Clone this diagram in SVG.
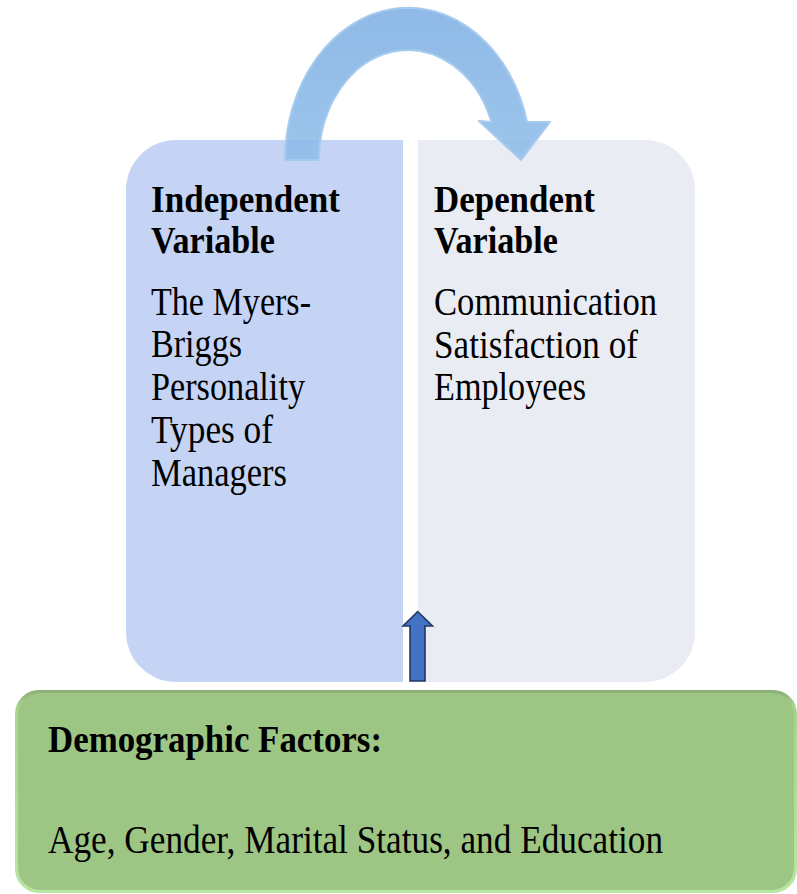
<svg xmlns="http://www.w3.org/2000/svg" width="797" height="894" viewBox="0 0 797 894">
  <style>
    text { font-family: "Liberation Serif", "Times New Roman", serif; fill: #000; }
    .head { font-size: 37px; font-weight: bold; }
    .body { font-size: 39px; }
  </style>
  <defs>
    <linearGradient id="arcFill" x1="0" y1="0" x2="0" y2="1">
      <stop offset="0" stop-color="#7fb0e3"/>
      <stop offset="1" stop-color="#8fbde9"/>
    </linearGradient>
    <linearGradient id="greenEdge" x1="0" y1="0" x2="0" y2="1">
      <stop offset="0" stop-color="#8aab76"/>
      <stop offset="0.08" stop-color="#a9d48f"/>
      <stop offset="1" stop-color="#b9e6a2"/>
    </linearGradient>
  </defs>

  <rect width="797" height="894" fill="#ffffff"/>

  <!-- left panel: independent variable -->
  <g id="node-independent">
    <path d="M176,140 H403 V682 H176 A50,50 0 0 1 126,632 V190 A50,50 0 0 1 176,140 Z" fill="#c5d4f5"/>
    <text class="head" x="151" y="212" textLength="189" lengthAdjust="spacingAndGlyphs">Independent</text>
    <text class="head" x="151" y="253" textLength="124" lengthAdjust="spacingAndGlyphs">Variable</text>
    <text class="body" x="151" y="315" textLength="160" lengthAdjust="spacingAndGlyphs">The Myers-</text>
    <text class="body" x="151" y="357" textLength="91" lengthAdjust="spacingAndGlyphs">Briggs</text>
    <text class="body" x="151" y="400" textLength="154" lengthAdjust="spacingAndGlyphs">Personality</text>
    <text class="body" x="151" y="443" textLength="122" lengthAdjust="spacingAndGlyphs">Types of</text>
    <text class="body" x="151" y="486" textLength="136" lengthAdjust="spacingAndGlyphs">Managers</text>
  </g>

  <!-- right panel: dependent variable -->
  <g id="node-dependent">
    <path d="M418,140 H645 A50,50 0 0 1 695,190 V632 A50,50 0 0 1 645,682 H418 Z" fill="#e9ecf2"/>
    <text class="head" x="434" y="212" textLength="161" lengthAdjust="spacingAndGlyphs">Dependent</text>
    <text class="head" x="434" y="253" textLength="124" lengthAdjust="spacingAndGlyphs">Variable</text>
    <text class="body" x="434" y="315" textLength="223" lengthAdjust="spacingAndGlyphs">Communication</text>
    <text class="body" x="434" y="358" textLength="204" lengthAdjust="spacingAndGlyphs">Satisfaction of</text>
    <text class="body" x="434" y="400" textLength="152" lengthAdjust="spacingAndGlyphs">Employees</text>
  </g>

  <!-- bottom band: demographic factors -->
  <g id="node-demographics">
    <rect x="15" y="690" width="782" height="203" rx="24" fill="url(#greenEdge)"/>
    <rect x="18" y="693" width="776" height="197" rx="22" fill="#9dc584"/>
    <text class="head" x="48" y="752" textLength="334" lengthAdjust="spacingAndGlyphs">Demographic Factors:</text>
    <text class="body" x="48" y="853" textLength="615" lengthAdjust="spacingAndGlyphs">Age, Gender, Marital Status, and Education</text>
  </g>

  <!-- connectors -->
  <g id="connectors">
    <path d="M285,160 A123,153 0 0 1 527,122 L550,122 L521,160 L479,121 L491.5,122 A89,110 0 0 0 319,160 Z"
          fill="url(#arcFill)" fill-opacity="0.88" stroke="#a6cbef" stroke-width="2" stroke-linejoin="round"/>
    <path d="M410,681 V626 H403 L417.7,611.5 L432.5,626 H425 V681 Z"
          fill="#4472c4" stroke="#1f3864" stroke-width="1.6" stroke-linejoin="miter"/>
  </g>
</svg>
